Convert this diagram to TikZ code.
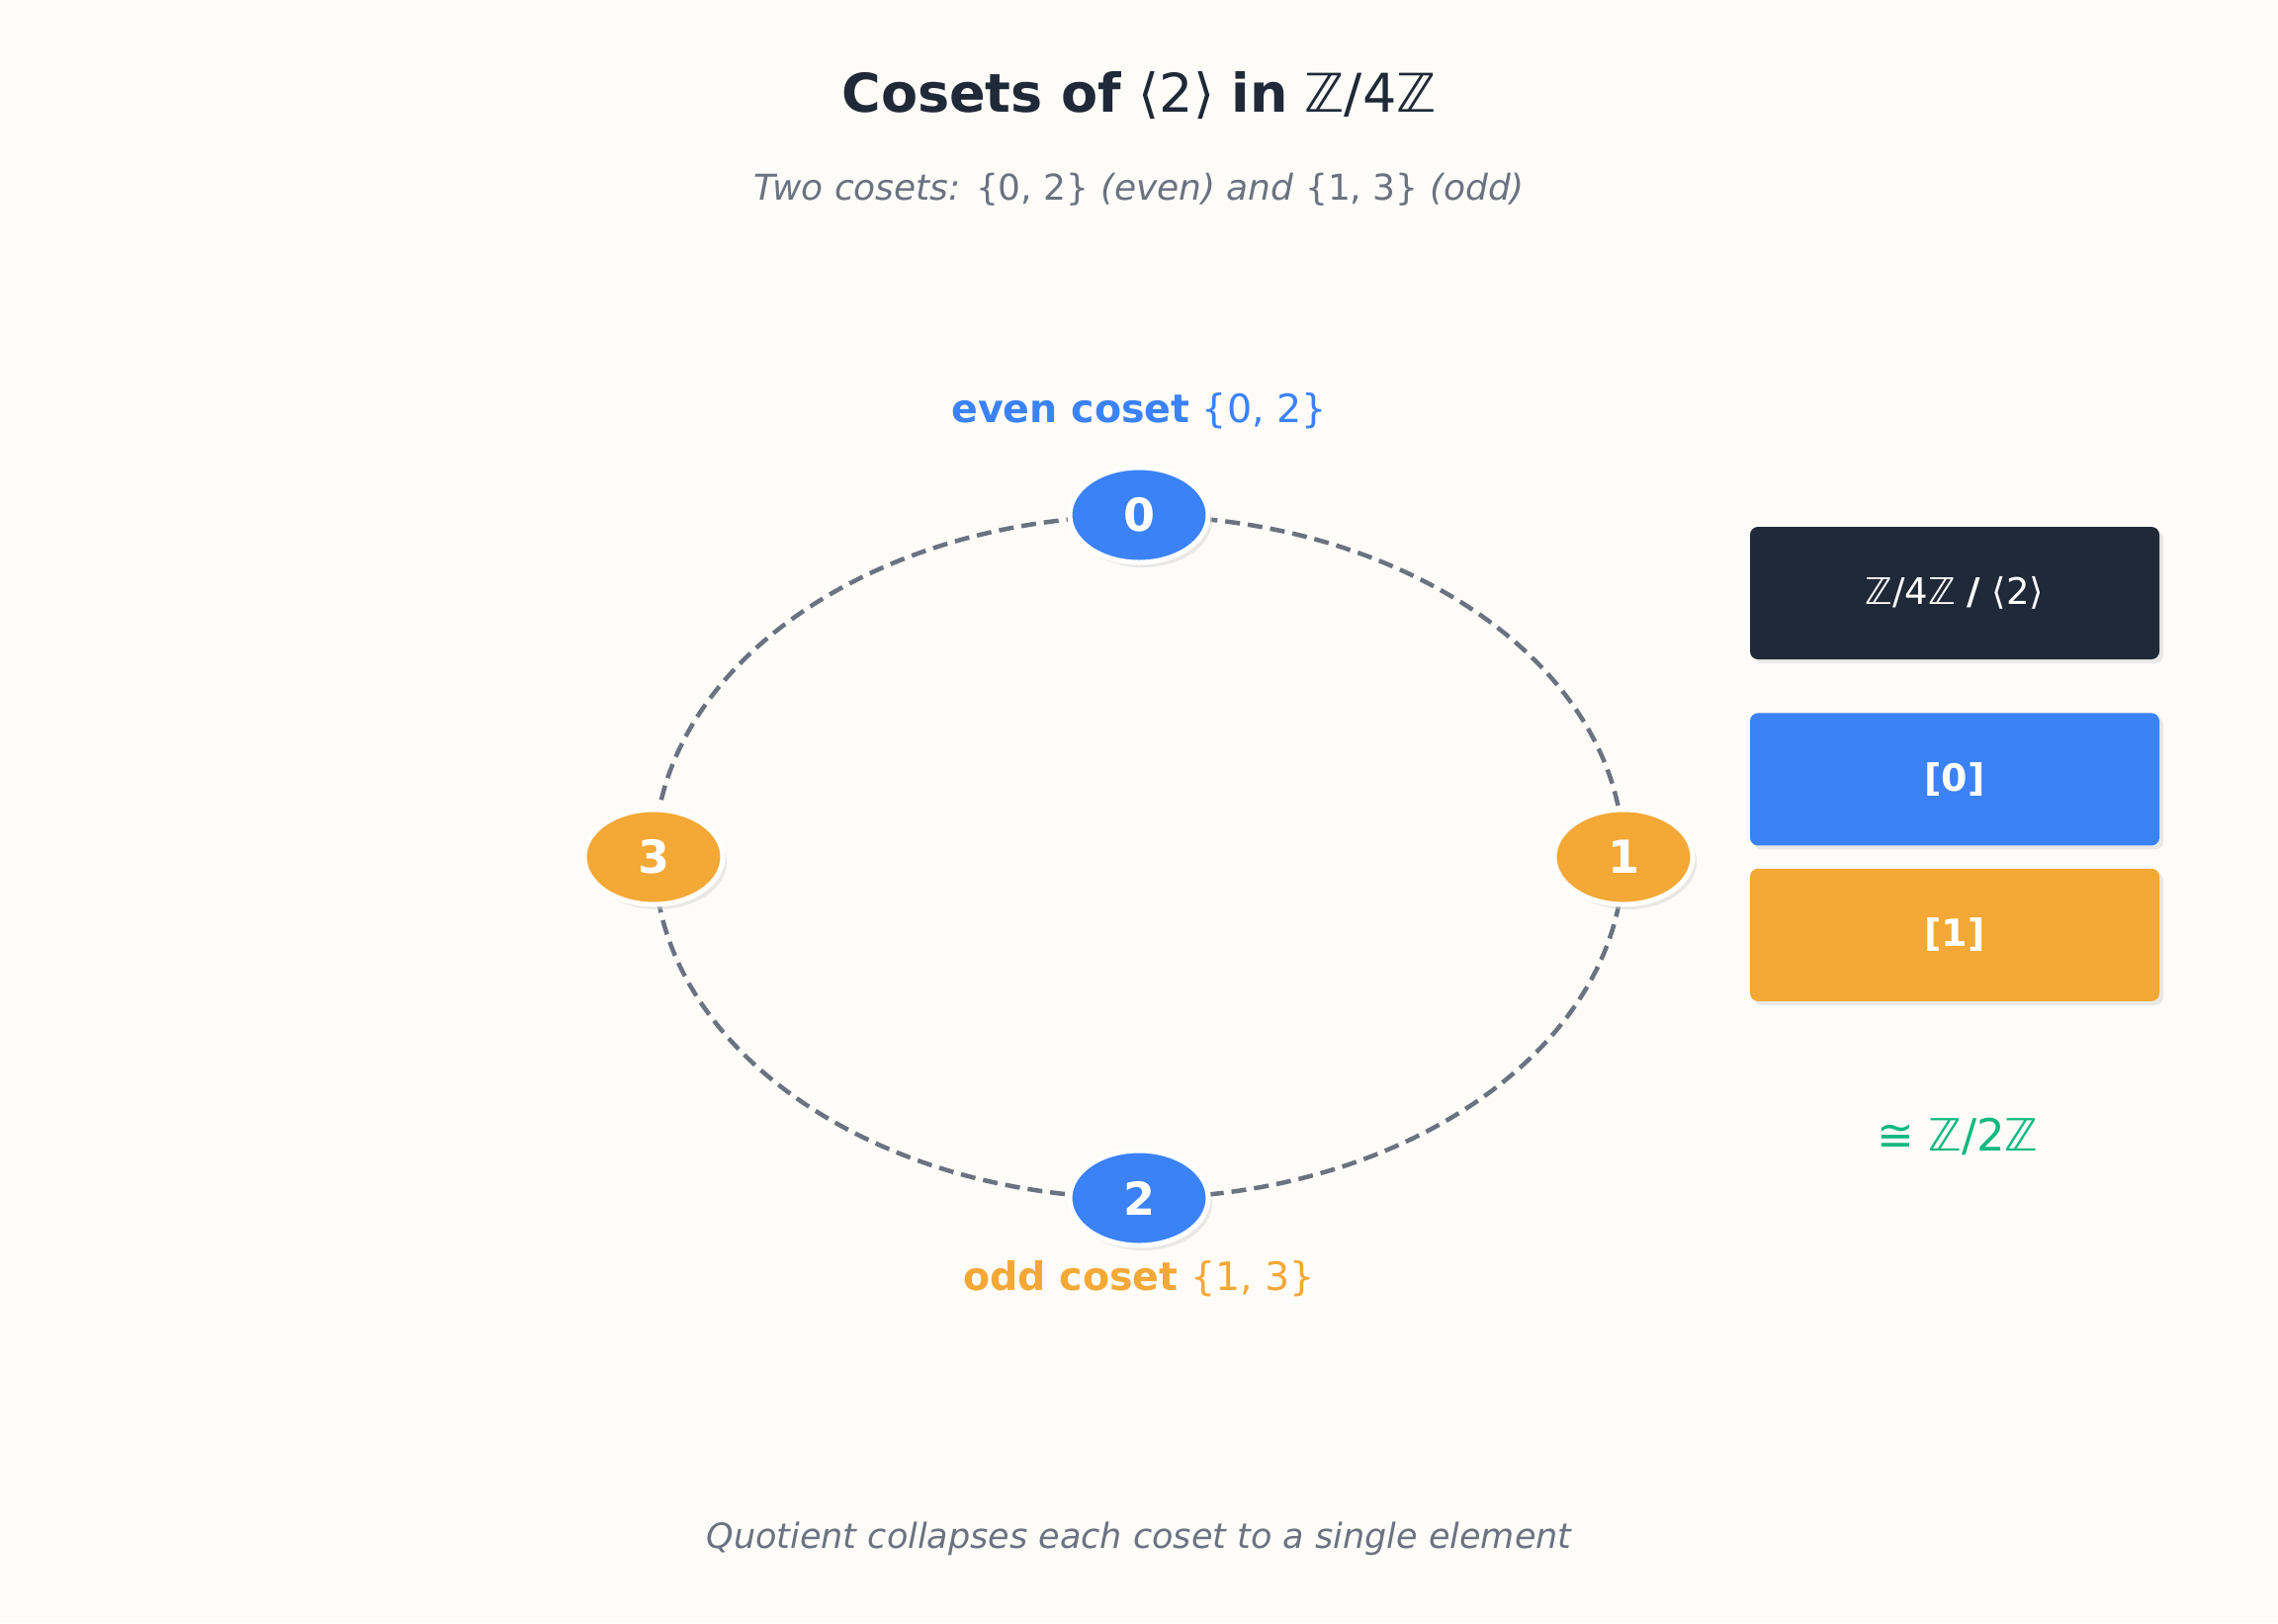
\documentclass[tikz,border=0pt]{standalone}
\usepackage{fontspec}
\setmainfont{DejaVu Sans}
\usetikzlibrary{shapes.geometric,shadows,positioning}
\definecolor{paper}{HTML}{FDFCF9}
\definecolor{inkdark}{HTML}{1F2937}
\definecolor{inkgray}{HTML}{6B7280}
\definecolor{evenblue}{HTML}{3B82F6}
\definecolor{oddorange}{HTML}{F4A836}
\definecolor{isogreen}{HTML}{10B981}
\newcommand{\fsz}[1]{\fontsize{#1}{#1}\selectfont}

\begin{document}
\begin{tikzpicture}[x=1pt,y=-1pt]
\tikzstyle{elem}=[ellipse, draw=white, line width=5pt,
	minimum width=140pt, minimum height=96pt, inner sep=0pt,
	text=white, font=\fsz{46}\bfseries,
	drop shadow={shadow xshift=4pt, shadow yshift=-5pt, fill=black!16}]
\tikzstyle{cls}=[rectangle, rounded corners=8pt, inner sep=0pt,
	minimum width=414pt, minimum height=134pt, text=white,
	drop shadow={shadow xshift=4pt, shadow yshift=-4pt, fill=black!16}]
\tikzstyle{ring}=[draw=inkgray, line width=4.5pt, dash pattern=on 15pt off 8pt]
\fill[paper] (0,0) rectangle (2304,1642);
\node[font=\fsz{54}, text=inkdark] (title) at (1152,97)
	{\textbf{Cosets of} ⟨2⟩ \textbf{in} ℤ/4ℤ};
\node[font=\fsz{36}\itshape, text=inkgray] (subtitle) at (1152,192)
	{Two cosets: {\upshape\{0, 2\}} (even) and {\upshape\{1, 3\}} (odd)};
\coordinate (ctr) at (1152,867);
\draw[ring] (ctr) ellipse [x radius=490, y radius=345];
\node[elem, fill=evenblue] (n0) at (1152,521) { 0 };
\node[elem, fill=oddorange] (n1) at (1642,867) { 1 };
\node[elem, fill=evenblue] (n2) at (1152,1212) { 2 };
\node[elem, fill=oddorange] (n3) at (661,867) { 3 };
\node[font=\fsz{39.5}, text=evenblue] (evenlbl) at (1152,416)
	{\textbf{even coset} \{0, 2\}};
\node[font=\fsz{39.5}, text=oddorange] (oddlbl) at (1152,1294)
	{\textbf{odd coset} \{1, 3\}};
\node[cls, fill=inkdark, font=\fsz{37}] (quot) at (1977,600)
	{ℤ/4ℤ \textbf{/} ⟨2⟩};
\node[cls, fill=evenblue, font=\fsz{38}\bfseries, below=54pt of quot] (cls0) {[0]};
\node[cls, fill=oddorange, font=\fsz{38}\bfseries, below=23pt of cls0] (cls1) {[1]};
\node[font=\fsz{45}, text=isogreen] (iso) at (1980,1150) {≅ ℤ/2ℤ};
\node[font=\fsz{35}\itshape, text=inkgray] (footer) at (1152,1557)
	{Quotient collapses each coset to a single element};
\end{tikzpicture}
\end{document}
